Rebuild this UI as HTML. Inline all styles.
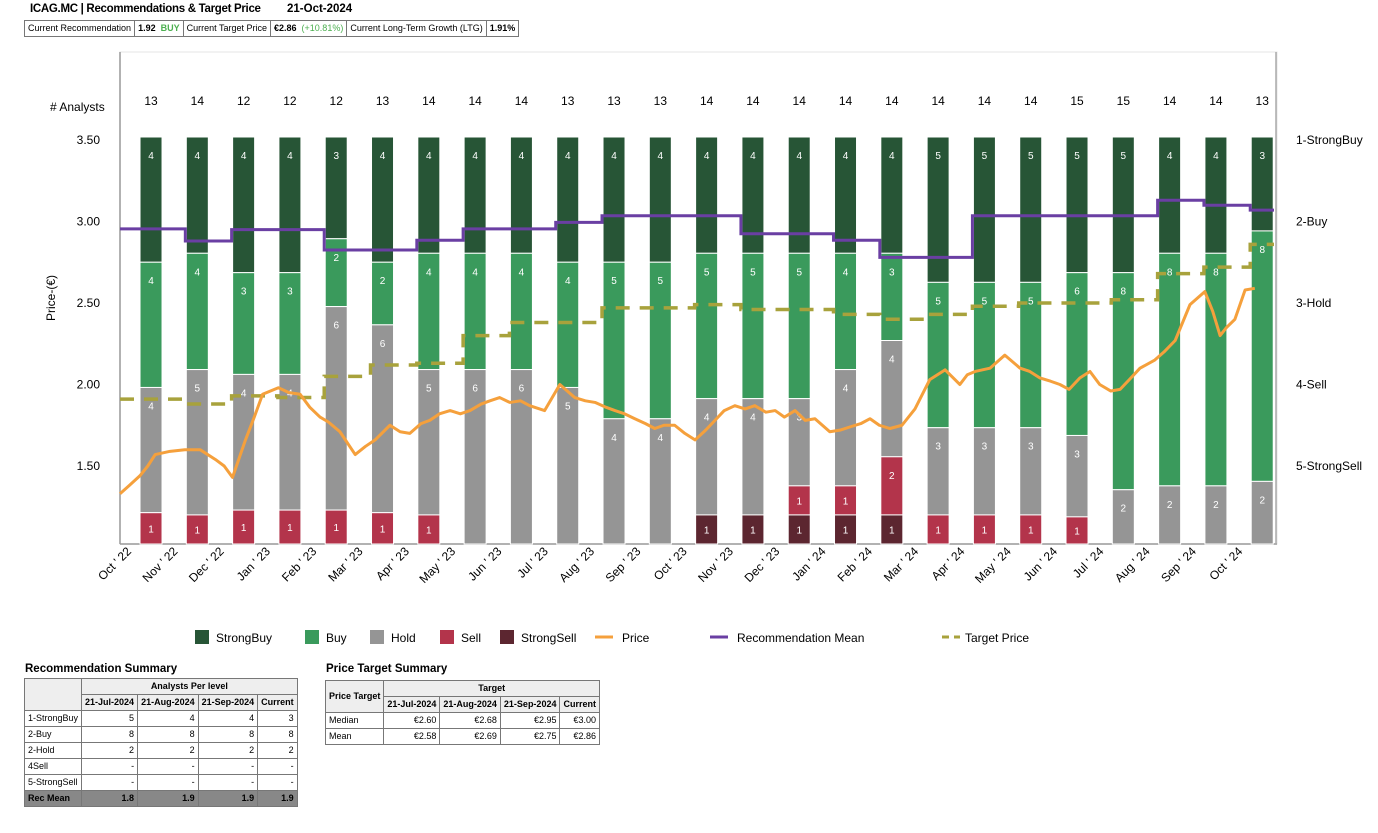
<!DOCTYPE html>
<html><head><meta charset="utf-8">
<style>
body{margin:0;background:#fff;font-family:"Liberation Sans",sans-serif;}
#wrap{position:relative;width:1378px;height:833px;overflow:hidden;}
.t{position:absolute;font-size:11px;color:#000;white-space:nowrap;}
table{border-collapse:collapse;font-size:9px;position:absolute;}
td,th{border:1px solid #777;padding:0 3px;height:15px;white-space:nowrap;line-height:11px;}
th{background:#eee;font-weight:bold;}
.r{text-align:right}
</style></head><body>
<div id="wrap">
<div class="t" style="left:30px;top:3px;font-weight:bold;font-size:11.5px;letter-spacing:-0.3px">ICAG.MC | Recommendations &amp; Target Price</div>
<div class="t" style="left:287px;top:3px;font-weight:bold;font-size:11.5px">21-Oct-2024</div>
<table style="left:24px;top:20px;font-size:9px"><tr>
<td style="height:15px">Current Recommendation</td><td><b>1.92</b> &nbsp;<b style="color:#4caf50">BUY</b></td><td>Current Target Price</td><td><b>€2.86</b> &nbsp;<span style="color:#4caf50">(+10.81%)</span></td><td>Current Long-Term Growth (LTG)</td><td><b>1.91%</b></td></tr></table>

<svg id="chart" width="1378" height="660" style="position:absolute;left:0;top:0"></svg>

<div class="t" style="left:25px;top:663px;font-weight:bold;font-size:11.5px">Recommendation Summary</div>
<table style="left:24px;top:678px;width:273px">
<tr><th rowspan="2" style="background:#eee"></th><th colspan="4">Analysts Per level</th></tr>
<tr><th>21-Jul-2024</th><th>21-Aug-2024</th><th>21-Sep-2024</th><th>Current</th></tr>
<tr><td>1-StrongBuy</td><td class="r">5</td><td class="r">4</td><td class="r">4</td><td class="r">3</td></tr>
<tr><td>2-Buy</td><td class="r">8</td><td class="r">8</td><td class="r">8</td><td class="r">8</td></tr>
<tr><td>2-Hold</td><td class="r">2</td><td class="r">2</td><td class="r">2</td><td class="r">2</td></tr>
<tr><td>4Sell</td><td class="r">-</td><td class="r">-</td><td class="r">-</td><td class="r">-</td></tr>
<tr><td>5-StrongSell</td><td class="r">-</td><td class="r">-</td><td class="r">-</td><td class="r">-</td></tr>
<tr style="background:#888;font-weight:bold"><td>Rec Mean</td><td class="r">1.8</td><td class="r">1.9</td><td class="r">1.9</td><td class="r">1.9</td></tr>
</table>
<div class="t" style="left:326px;top:663px;font-weight:bold;font-size:11.5px">Price Target Summary</div>
<table style="left:325px;top:680px;width:275px">
<tr><th rowspan="2">Price Target</th><th colspan="4">Target</th></tr>
<tr><th>21-Jul-2024</th><th>21-Aug-2024</th><th>21-Sep-2024</th><th>Current</th></tr>
<tr><td>Median</td><td class="r">€2.60</td><td class="r">€2.68</td><td class="r">€2.95</td><td class="r">€3.00</td></tr>
<tr><td>Mean</td><td class="r">€2.58</td><td class="r">€2.69</td><td class="r">€2.75</td><td class="r">€2.86</td></tr>
</table>
</div>
<script>
const monthLabels=["Oct ' 22","Nov ' 22","Dec ' 22","Jan ' 23","Feb ' 23","Mar ' 23","Apr ' 23","May ' 23","Jun ' 23","Jul ' 23","Aug ' 23","Sep ' 23","Oct ' 23","Nov ' 23","Dec ' 23","Jan ' 24","Feb ' 24","Mar ' 24","Apr ' 24","May ' 24","Jun ' 24","Jul ' 24","Aug ' 24","Sep ' 24","Oct ' 24"];
const strongBuy=[4,4,4,4,3,4,4,4,4,4,4,4,4,4,4,4,4,5,5,5,5,5,4,4,3];
const buy=[4,4,3,3,2,2,4,4,4,4,5,5,5,5,5,4,3,5,5,5,6,8,8,8,8];
const hold=[4,5,4,4,6,6,5,6,6,5,4,4,4,4,3,4,4,3,3,3,3,2,2,2,2];
const sell=[1,1,1,1,1,1,1,0,0,0,0,0,0,0,1,1,2,1,1,1,1,0,0,0,0];
const strongSell=[0,0,0,0,0,0,0,0,0,0,0,0,1,1,1,1,1,0,0,0,0,0,0,0,0];
const recMean=[2.09,2.24,2.10,2.10,2.35,2.35,2.23,2.09,2.09,2.01,1.93,1.93,1.93,2.15,2.15,2.23,2.44,2.44,1.93,1.93,1.93,1.93,1.74,1.80,1.86];
const targetPrice=[1.91,1.88,1.93,1.92,2.05,2.12,2.13,2.30,2.38,2.38,2.47,2.47,2.49,2.46,2.46,2.43,2.40,2.43,2.48,2.50,2.50,2.52,2.68,2.72,2.86];
const priceMonths=[0,0.2,0.43,0.6,0.76,1.08,1.4,1.73,2.06,2.25,2.43,2.71,2.9,3.08,3.25,3.42,3.65,3.89,4.1,4.32,4.5,4.75,5.08,5.3,5.51,5.83,6.05,6.26,6.5,6.69,6.9,7.13,7.35,7.56,7.8,7.99,8.2,8.42,8.65,8.85,9.17,9.50,9.82,10.05,10.26,10.5,10.69,10.9,11.12,11.35,11.55,11.75,11.98,12.2,12.42,12.65,12.85,13.05,13.28,13.5,13.71,13.95,14.15,14.35,14.58,14.8,15.01,15.33,15.55,15.77,16.0,16.20,16.4,16.63,16.89,17.17,17.49,17.82,18.14,18.3,18.47,18.79,19.11,19.44,19.65,19.87,20.1,20.30,20.5,20.73,20.95,21.16,21.4,21.60,21.8,22.03,22.35,22.55,22.79,23.11,23.43,23.6,23.76,23.9,24.08,24.30,24.51,24.73];
const priceValues=[1.33,1.38,1.44,1.50,1.57,1.59,1.60,1.60,1.54,1.50,1.43,1.66,1.80,1.94,1.96,1.98,1.95,1.94,1.86,1.80,1.77,1.71,1.57,1.62,1.66,1.75,1.71,1.70,1.76,1.78,1.82,1.84,1.82,1.84,1.88,1.90,1.92,1.89,1.90,1.87,1.84,2.00,1.92,1.90,1.89,1.86,1.84,1.82,1.79,1.76,1.73,1.75,1.75,1.70,1.66,1.72,1.78,1.84,1.87,1.85,1.87,1.83,1.84,1.80,1.84,1.78,1.79,1.71,1.72,1.74,1.76,1.79,1.75,1.73,1.75,1.85,2.03,2.09,2.00,2.06,2.08,2.10,2.18,2.10,2.08,2.04,2.02,2.00,1.97,2.04,2.08,2.00,1.96,1.97,2.03,2.10,2.15,2.20,2.27,2.49,2.57,2.45,2.30,2.35,2.40,2.58,2.59];
const yTicks=[3.5,3.0,2.5,2.0,1.5];
const recLabels=["1-StrongBuy","2-Buy","3-Hold","4-Sell","5-StrongSell"];

const svg=document.getElementById('chart');
const NS='http://www.w3.org/2000/svg';
const X0=120,MW=46.3,BOT=544,TOPB=137;
const xM=m=>X0+m*MW;
const yP=p=>466-(p-1.5)*163;
const yR=r=>140+(r-1)*81.5;
function mk(tag,attrs,parent){const e=document.createElementNS(NS,tag);for(const k in attrs)e.setAttribute(k,attrs[k]);(parent||svg).appendChild(e);return e;}

const frame=mk('rect',{x:120,y:52,width:1157,height:492,fill:'none',stroke:'#e4e4e4'});


const axl=mk('line',{x1:120,y1:52,x2:120,y2:544,stroke:'#999','stroke-width':1.5});


const axb=mk('line',{x1:120,y1:544,x2:1277,y2:544,stroke:'#999','stroke-width':1.5});


const axr=mk('line',{x1:1276,y1:52,x2:1276,y2:544,stroke:'#aaa','stroke-width':1.5});



yTicks.forEach(v=>{const t=mk('text',{x:100,y:yP(v)+4,'text-anchor':'end','font-size':12});t.textContent=v.toFixed(2);

});
recLabels.forEach((l,i)=>{const t=mk('text',{x:1296,y:yR(i+1)+4,'font-size':12});t.textContent=l;

});
const yt=mk('text',{x:55,y:298,'font-size':12,transform:'rotate(-90 55 298)','text-anchor':'middle'});yt.textContent='Price-(€)';


const at=mk('text',{x:50,y:111,'font-size':12});at.textContent='# Analysts';



const cols=['#275536','#3a9a5c','#959595','#b3344b','#5c2630'];
const series=[strongBuy,buy,hold,sell,strongSell];
monthLabels.forEach((lab,i)=>{
  const cx=xM(i+0.67);
  const tot=series.reduce((s,a)=>s+a[i],0);
  const H=BOT-TOPB;
  let y=TOPB;
  series.forEach((a,k)=>{
    const v=a[i]; if(!v)return;
    const h=v/tot*H;
    const r=mk('rect',{x:cx-11,y:y,width:22,height:h,fill:cols[k],stroke:'#fff','stroke-width':1});
    
    
    const t=mk('text',{x:cx,y:y+Math.min(h/2,18)+4,'text-anchor':'middle','font-size':10,fill:'#fff'});
    if(h<40) t.setAttribute('y',y+h/2+4);
    t.textContent=v;
    
    
    y+=h;
  });
  const c=mk('text',{x:cx,y:105,'text-anchor':'middle','font-size':12});c.textContent=tot;
  
  
  const tx=xM(i)+12,ty=552;
  const tl=mk('text',{x:tx,y:ty,'text-anchor':'end','font-size':12,transform:`rotate(-45 ${tx} ${ty})`});tl.textContent=lab;
  
  
});

let tp='';
targetPrice.forEach((v,i)=>{const xa=i===0?X0:xM(i+0.67)-12,xb=i===targetPrice.length-1?1274:xM(i+1+0.67)-12;
 tp+=(i===0?'M':'L')+xa+' '+yP(v)+' L'+xb+' '+yP(v)+' ';});
const tpl=mk('path',{d:tp,fill:'none',stroke:'#a8a23c','stroke-width':3.5,'stroke-dasharray':'14 10'});



const pl=mk('polyline',{points:priceMonths.map((m,i)=>xM(m)+','+yP(priceValues[i])).join(' '),fill:'none',stroke:'#f5a03c','stroke-width':3,'stroke-linejoin':'round'});



let rp='';
recMean.forEach((v,i)=>{const xa=i===0?X0:xM(i+0.67)-12,xb=i===recMean.length-1?1274:xM(i+1+0.67)-12;
 rp+=(i===0?'M':'L')+xa+' '+yR(v)+' L'+xb+' '+yR(v)+' ';});
const rl=mk('path',{d:rp,fill:'none',stroke:'#6a3fa3','stroke-width':3});



const leg=[['StrongBuy',195,'box',cols[0]],['Buy',305,'box',cols[1]],['Hold',370,'box',cols[2]],['Sell',440,'box',cols[3]],['StrongSell',500,'box',cols[4]],['Price',595,'line','#f5a03c'],['Recommendation Mean',710,'line','#6a3fa3'],['Target Price',942,'dash','#a8a23c']];
leg.forEach(([n,x,t,c])=>{
  const g=mk('g',{});
  
  
  let tx;
  if(t==='box'){mk('rect',{x:x,y:630,width:14,height:14,fill:c},g);tx=x+21;}
  else{mk('line',{x1:x,y1:637,x2:x+18,y2:637,stroke:c,'stroke-width':3,'stroke-dasharray':t==='dash'?'7 5':'none'},g);tx=x+(t==='dash'?23:27);}
  const tt=mk('text',{x:tx,y:642,'font-size':12},g);tt.textContent=n;
});
</script>
</body></html>
